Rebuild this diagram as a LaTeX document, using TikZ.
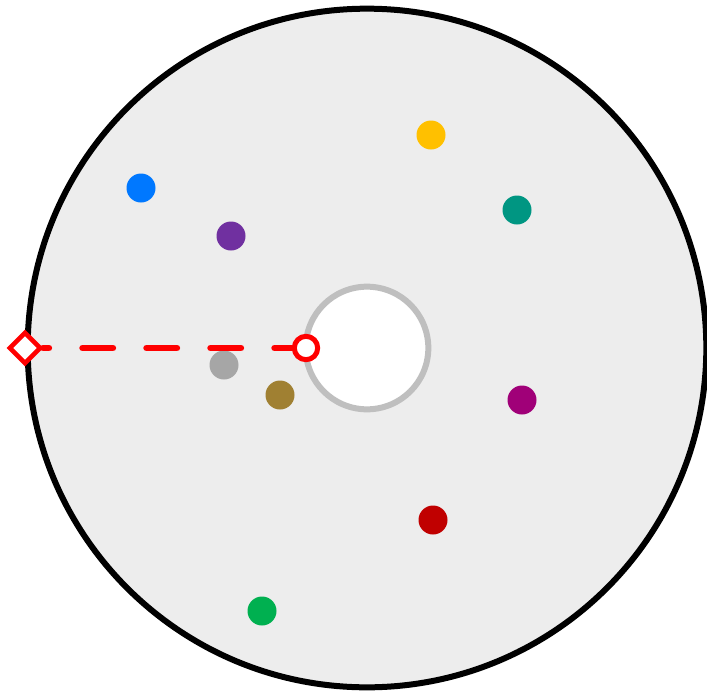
\documentclass[tikz,border=0pt]{standalone}
\usepackage{xcolor}
\usetikzlibrary{shapes.geometric}

\definecolor{discgray}{HTML}{EDEDED}
\definecolor{hubgray}{HTML}{BFBFBF}
\definecolor{dotblue}{HTML}{0078FF}
\definecolor{dotpurple}{HTML}{7030A0}
\definecolor{dotyellow}{HTML}{FFC000}
\definecolor{dotteal}{HTML}{009682}
\definecolor{dotgray}{HTML}{A6A6A6}
\definecolor{dotbrown}{HTML}{A08032}
\definecolor{dotmagenta}{HTML}{A00078}
\definecolor{dotred}{HTML}{C00000}
\definecolor{dotgreen}{HTML}{00B050}

\begin{document}
\begin{tikzpicture}[
  x=0.75pt, y=-0.75pt,
  disc/.style={circle, draw=black, line width=4.5pt, fill=discgray,
               minimum size=509pt, inner sep=0pt},
  hub/.style={circle, draw=hubgray, line width=4.5pt, fill=white,
              minimum size=92pt, inner sep=0pt},
  dot/.style={circle, minimum size=21.75pt, inner sep=0pt},
  ring/.style={circle, draw=red, line width=3.75pt, fill=white,
               minimum size=17.5pt, inner sep=0pt},
  tip/.style={diamond, draw=red, line width=3.4pt, fill=white,
              minimum size=24pt, inner sep=0pt},
  link/.style={red, line width=5.2pt, line cap=round,
               dash pattern=on 22.5pt off 25.5pt, dash phase=18.4pt}]
\useasboundingbox (0,0) rectangle (707,693);
\node[disc] (disk) at (367,348) {};
\node[hub] (hub) at (367,348) {};
% coloured points
\node[dot, fill=dotblue]    (blue)    at (141,188) {};
\node[dot, fill=dotpurple]  (purple)  at (231,236) {};
\node[dot, fill=dotyellow]  (yellow)  at (431,135) {};
\node[dot, fill=dotteal]    (teal)    at (517,210) {};
\node[dot, fill=dotgray]    (gray)    at (224,365) {};
\node[dot, fill=dotbrown]   (brown)   at (280,395) {};
\node[dot, fill=dotmagenta] (magenta) at (522,400) {};
\node[dot, fill=dotred]     (red)     at (433,520) {};
\node[dot, fill=dotgreen]   (green)   at (262,611) {};
% red path from rim to hub
\node[tip]  (start) at (25,348) {};
\node[ring] (end)   at (306,348) {};
\draw[link] (start.east) -- (end.west);
\end{tikzpicture}
\end{document}
